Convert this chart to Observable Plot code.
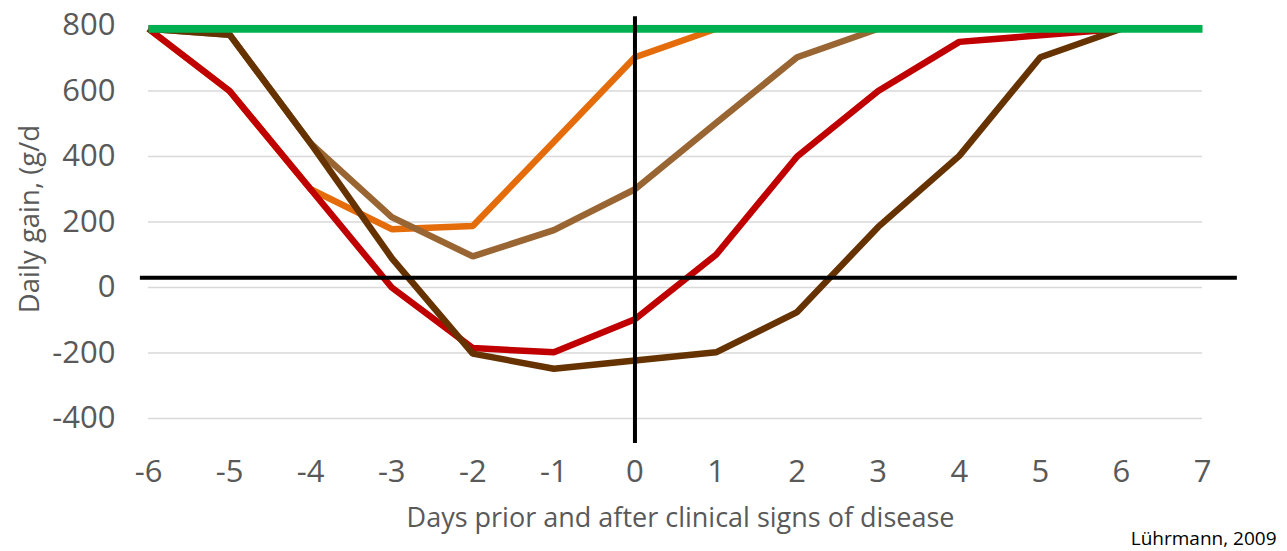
<!DOCTYPE html>
<html>
<head>
<meta charset="utf-8">
<script src="https://cdn.jsdelivr.net/npm/d3@7"></script>
<script src="https://cdn.jsdelivr.net/npm/@observablehq/plot@0.6"></script>
<style>
  html, body { margin: 0; padding: 0; background: #ffffff; }
  svg text { font-family: "Open Sans", sans-serif; }
</style>
</head>
<body>
<div id="chart"></div>
<script>
const days = [-6, -5, -4, -3, -2, -1, 0, 1, 2, 3, 4, 5, 6, 7];
const xTicks = [-6, -5, -4, -3, -2, -1, 0, 1, 2, 3, 4, 5, 6, 7];
const yTicks = [-400, -200, 0, 200, 400, 600, 800];

const orange    = [790, 600, 300, 178, 188, 445, 703, 790, null, null, null, null, null, null];
const lightBrown= [790, 772, 440, 215, 95, 175, 300, 502, 703, 790, null, null, null, null];
const red       = [790, 600, 300, 0, -185, -198, -97, 100, 400, 600, 750, 770, 790, null];
const darkBrown = [790, 772, 440, 90, -202, -248, -223, -198, -75, 185, 402, 703, 790, null];
const target    = [790, 790, 790, 790, 790, 790, 790, 790, 790, 790, 790, 790, 790, 790];

const seriesNames = ["orange", "lightBrown", "red", "darkBrown"];
const seriesValues = [orange, lightBrown, red, darkBrown];
const seriesColors = ["#E46C0A", "#996633", "#C00000", "#663300"];

const baselineRule = [{y: 30, x1: -6.1, x2: 7.43}];
const onsetRule = [{x: 0, y1: -476, y2: 827}];

const yLabel = "Daily gain, (g/d";
const xLabel = "Days prior and after clinical signs of disease";
const source = "Lührmann, 2009";

const lineMarks = seriesValues.map((vals, i) =>
  Plot.line(days.map((d, j) => ({day: d, value: vals[j]})).filter(p => p.value !== null), {
    x: "day", y: "value", stroke: seriesColors[i], strokeWidth: 6.5,
    strokeLinejoin: "miter", strokeLinecap: "butt"
  })
);

const chart = Plot.plot({
  width: 1287,
  height: 551,
  marginLeft: 148,
  marginRight: 85,
  marginTop: 25,
  marginBottom: 133,
  style: {background: "#ffffff", color: "#595959", fontFamily: "Open Sans"},
  x: {type: "linear", domain: [-6, 7]},
  y: {domain: [-400, 800]},
  marks: [
    Plot.gridY(yTicks, {stroke: "#D9D9D9", strokeOpacity: 1, strokeWidth: 1.3}),
    Plot.axisY(yTicks, {tickSize: 0, tickPadding: 33, fontSize: 31, label: null, fill: "#595959", tickFormat: d => String(d)}),
    Plot.axisX(xTicks, {tickSize: 0, tickPadding: 41, fontSize: 31, label: null, fill: "#595959", tickFormat: d => String(d)}),
    ...lineMarks,
    Plot.line(days.map((d, j) => ({day: d, value: target[j]})), {
      x: "day", y: "value", stroke: "#00B050", strokeWidth: 7.7, strokeLinecap: "butt"
    }),
    Plot.ruleY(baselineRule, {y: "y", x1: "x1", x2: "x2", stroke: "#000000", strokeWidth: 4}),
    Plot.ruleX(onsetRule, {x: "x", y1: "y1", y2: "y2", stroke: "#000000", strokeWidth: 4}),
    Plot.text([yLabel], {frameAnchor: "left", dx: -118, dy: -3, rotate: -90, textAnchor: "middle", lineAnchor: "middle", fontSize: 27.5, fill: "#595959", text: d => d}),
    Plot.text([xLabel], {frameAnchor: "bottom", dx: 5, dy: 100, lineAnchor: "middle", fontSize: 27, fill: "#595959", text: d => d}),
    Plot.text([source], {frameAnchor: "bottom-right", dx: 74, dy: 120, lineAnchor: "middle", textAnchor: "end", fontSize: 19, fill: "#000000", text: d => d})
  ]
});
document.getElementById("chart").appendChild(chart);
</script>
</body>
</html>
